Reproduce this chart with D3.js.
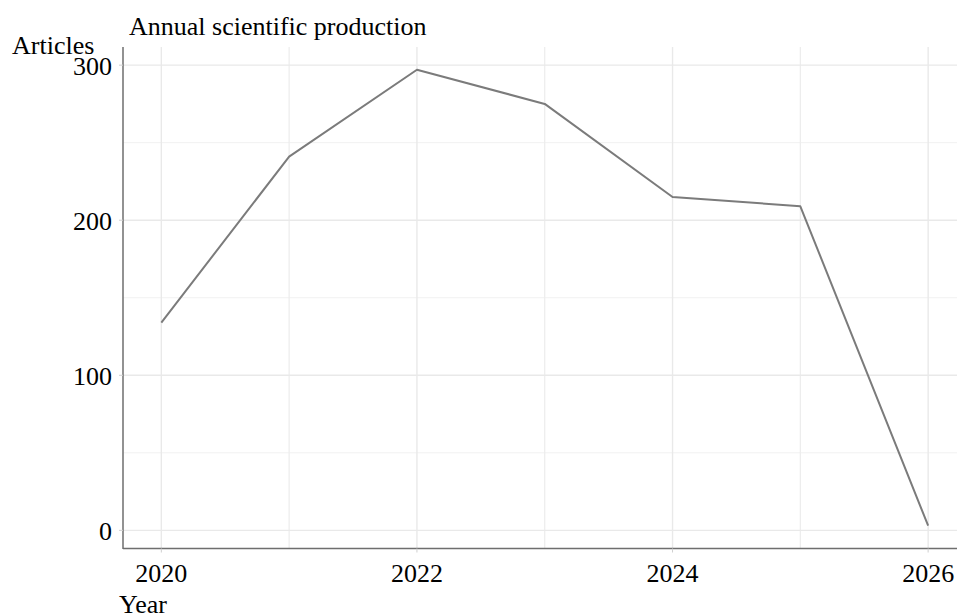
<!DOCTYPE html>
<html>
<head>
<meta charset="utf-8">
<script src="https://cdn.jsdelivr.net/npm/d3@7"></script>
<style>
  html, body { margin: 0; padding: 0; background: #fff; }
  svg { display: block; }
  text { font-family: "Liberation Serif", "Times New Roman", serif; fill: #000; }
</style>
</head>
<body>
<svg id="chart" width="957" height="614"></svg>
<script>
const years = [2020, 2021, 2022, 2023, 2024, 2025, 2026];
const articles = [134, 241, 297, 275, 215, 209, 3];
const xMajorTicks = [2020, 2022, 2024, 2026];
const xMinorTicks = [2021, 2023, 2025];
const yMajorTicks = [0, 100, 200, 300];
const yMinorTicks = [50, 150, 250];
const titleText = "Annual scientific production";
const yLabel = "Articles";
const xLabel = "Year";

(function () {
const W = 957, H = 614;
const pLeft = 123, pTop = 47, pBottom = 548.5;
const svg = d3.select("#chart");

const yMin = d3.min(articles), yMax = d3.max(articles);
const yPad = (yMax - yMin) * 0.05;
const y = d3.scaleLinear().domain([yMin - yPad, yMax + yPad]).range([pBottom, pTop]);
const xPad = (2026 - 2020) * 0.05;
const x = d3.scaleLinear().domain([2020 - xPad, 2026 + xPad]).range([pLeft, pLeft + 6.6 * 127.8]);

// grid
const g = svg.append("g");
g.selectAll("line.ymin").data(yMinorTicks).join("line")
  .attr("x1", pLeft).attr("x2", W).attr("y1", d => y(d)).attr("y2", d => y(d))
  .attr("stroke", "#f1f1f1").attr("stroke-width", 1);
g.selectAll("line.xmin").data(xMinorTicks).join("line")
  .attr("x1", d => x(d)).attr("x2", d => x(d)).attr("y1", pTop).attr("y2", pBottom)
  .attr("stroke", "#ececec").attr("stroke-width", 1.2);
g.selectAll("line.ymaj").data(yMajorTicks).join("line")
  .attr("x1", pLeft).attr("x2", W).attr("y1", d => y(d)).attr("y2", d => y(d))
  .attr("stroke", "#e9e9e9").attr("stroke-width", 1.4);
g.selectAll("line.xmaj").data(xMajorTicks).join("line")
  .attr("x1", d => x(d)).attr("x2", d => x(d)).attr("y1", pTop).attr("y2", pBottom)
  .attr("stroke", "#e9e9e9").attr("stroke-width", 1.4);

// line
const line = d3.line().x((d, i) => x(years[i])).y(d => y(d));
svg.append("path").datum(articles)
  .attr("d", line).attr("fill", "none")
  .attr("stroke", "#7b7b7b").attr("stroke-width", 2)
  .attr("stroke-linejoin", "round");

// axes lines
svg.append("line").attr("x1", pLeft).attr("x2", pLeft).attr("y1", pTop).attr("y2", pBottom + 0.5)
  .attr("stroke", "#6e6e6e").attr("stroke-width", 1.5);
svg.append("line").attr("x1", pLeft).attr("x2", W).attr("y1", pBottom).attr("y2", pBottom)
  .attr("stroke", "#6e6e6e").attr("stroke-width", 1.5);

// ticks
svg.selectAll("line.yt").data(yMajorTicks).join("line")
  .attr("x1", pLeft - 4).attr("x2", pLeft).attr("y1", d => y(d)).attr("y2", d => y(d))
  .attr("stroke", "#cfcfcf").attr("stroke-width", 1);
svg.selectAll("line.xt").data(xMajorTicks).join("line")
  .attr("x1", d => x(d)).attr("x2", d => x(d)).attr("y1", pBottom).attr("y2", pBottom + 4)
  .attr("stroke", "#cfcfcf").attr("stroke-width", 1);

// tick labels
svg.selectAll("text.yl").data(yMajorTicks).join("text")
  .attr("x", 112).attr("y", d => y(d) + 9.5)
  .attr("text-anchor", "end").attr("font-size", 26)
  .text(d => d);
svg.selectAll("text.xl").data(xMajorTicks).join("text")
  .attr("x", d => x(d)).attr("y", 581.5)
  .attr("text-anchor", "middle").attr("font-size", 26)
  .text(d => d);

// titles
svg.append("text").attr("x", 129).attr("y", 35).attr("font-size", 26).text(titleText);
svg.append("text").attr("x", 12).attr("y", 54).attr("font-size", 26).text(yLabel);
svg.append("text").attr("x", 119).attr("y", 612.5).attr("font-size", 26).text(xLabel);
})();
</script>
</body>
</html>
